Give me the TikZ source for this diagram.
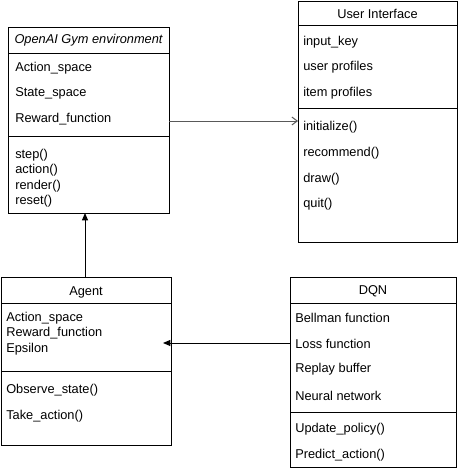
\documentclass[tikz,border=0pt]{standalone}
\usepackage{fontspec}
\setmainfont{Liberation Sans}
\usetikzlibrary{arrows.meta}
\begin{document}
\begin{tikzpicture}[x=0.75pt,y=-0.75pt,
  box/.style={draw=black,line width=0.75pt,inner sep=0pt,outer sep=0pt,anchor=north west},
  sep/.style={draw=black,line width=0.75pt},
  item/.style={anchor=west,inner sep=0pt,font=\fontsize{9.6pt}{11pt}\selectfont},
  ttl/.style={inner sep=0pt,font=\fontsize{9.6pt}{11pt}\selectfont},
  conn/.style={line width=0.75pt}]
\useasboundingbox (0,0) rectangle (459,471);
% boxes
\node[box,minimum width=120.75pt,minimum height=139.5pt] (gym) at (8,27) {};
\node[box,minimum width=119.25pt,minimum height=180.75pt] (ui) at (298,1) {};
\node[box,minimum width=127.5pt,minimum height=126pt] (agent) at (1,277) {};
\node[box,minimum width=124.5pt,minimum height=142.5pt] (dqn) at (290,277) {};
% separators
\draw[sep] (gym.west |- 0,53) -- (gym.east |- 0,53);
\draw[sep] (gym.west |- 0,136) -- (gym.east |- 0,136);
\draw[sep] (ui.west |- 0,25) -- (ui.east |- 0,25);
\draw[sep] (ui.west |- 0,108) -- (ui.east |- 0,108);
\draw[sep] (agent.west |- 0,303) -- (agent.east |- 0,303);
\draw[sep] (agent.west |- 0,371) -- (agent.east |- 0,371);
\draw[sep] (dqn.west |- 0,303) -- (dqn.east |- 0,303);
\draw[sep] (dqn.west |- 0,412) -- (dqn.east |- 0,412);
% gym texts
\node[ttl,font=\fontsize{9.6pt}{11pt}\selectfont\itshape] (gymt) at (88.5,40) {OpenAI Gym environment};
\node[item] (g1) at (15,68) {Action\_space};
\node[item] (g2) at (15,93.5) {State\_space};
\node[item] (g3) at (15,119.5) {Reward\_function};
\node[item] (g4) at (15,155) {step()};
\node[item] (g5) at (15,170.5) {action()};
\node[item] (g6) at (15,186) {render()};
\node[item] (g7) at (15,201.5) {reset()};
% ui texts
\node[ttl] (uit) at (377.5,14) {User Interface};
\node[item] (u1) at (303,42) {input\_key};
\node[item] (u2) at (303,67.5) {user profiles};
\node[item] (u3) at (303,93) {item profiles};
\node[item] (u4) at (303,127.5) {initialize()};
\node[item] (u5) at (303,153.5) {recommend()};
\node[item] (u6) at (303,179.5) {draw()};
\node[item] (u7) at (303,204.5) {quit()};
% agent texts
\node[ttl] (agt) at (86,292) {Agent};
\node[item] (a1) at (6,318) {Action\_space};
\node[item] (a2) at (6,333.5) {Reward\_function};
\node[item] (a3) at (6,349.5) {Epsilon};
\node[item] (a4) at (6,390) {Observe\_state()};
\node[item] (a5) at (6,416) {Take\_action()};
% dqn texts
\node[ttl] (dqt) at (373,291.5) {DQN};
\node[item] (d1) at (295,317.5) {Bellman function};
\node[item] (d2) at (295,343.5) {Loss function};
\node[item] (d3) at (295,369.5) {Replay buffer};
\node[item] (d4) at (295,395.5) {Neural network};
\node[item] (d5) at (295,429.5) {Update\_policy()};
\node[item] (d6) at (295,455.5) {Predict\_action()};
% connectors
\coordinate (agtip) at (163,343);
\draw[conn,-{Triangle[length=5.5pt,width=4.5pt]}] (agent.north -| 85,0) -- (gym.south -| 85,0);
\draw[conn,-{Triangle[length=5.5pt,width=4.5pt]}] (dqn.west |- agtip) -- (agtip);
\draw[conn,draw=black!65,-{Straight Barb[length=4pt,width=6pt]}] (gym.east |- 0,121) -- (ui.west |- 0,121);
\end{tikzpicture}
\end{document}
